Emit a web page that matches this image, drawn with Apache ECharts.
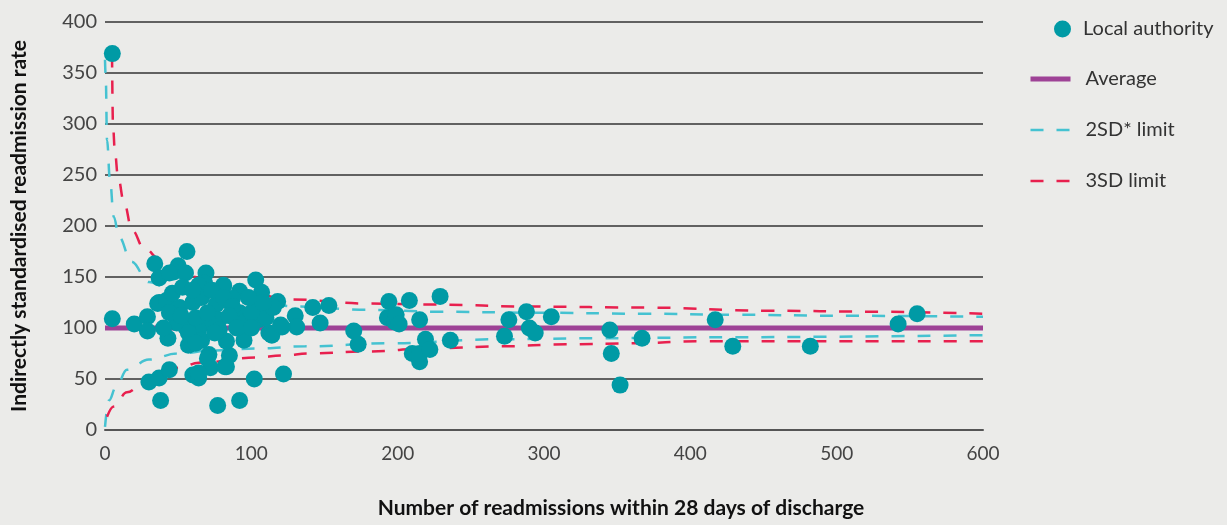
<!DOCTYPE html>
<html>
<head>
<meta charset="utf-8">
<script src="https://cdn.jsdelivr.net/npm/echarts@6/dist/echarts.min.js"></script>
<style>
html,body{margin:0;padding:0;background:#ebebe9;}
#chart{width:1227px;height:525px;}
</style>
</head>
<body>
<div id="chart"></div>
<script>
// ---- Data ----
const xTicks = [0, 100, 200, 300, 400, 500, 600];
const yTicks = [0, 50, 100, 150, 200, 250, 300, 350, 400];

const localAuthority = [
  [5,369],[5,109],[20,104],[29,111],[29,97],[30,47],[34,163],[37,149],[37,51],[38,29],
  [44,59],[37,125],[50,161],[47,155],[56,175],[55,154],[69,154],[68,144],[60,54],[64,51],
  [71,74],[72,61],[70,70],[77,24],[92,29],[85,73],[83,87],[82,62],[95,88],[103,147],
  [102,50],[122,55],[107,135],[92,136],[81,141],[118,126],[112,95],[130,112],[131,101],[142,120],
  [147,105],[153,122],[121,101],[170,97],[173,84],[194,126],[193,110],[198,106],[199,113],[201,104],
  [208,127],[210,75],[215,67],[215,75],[215,108],[219,89],[222,79],[229,131],[236,88],[273,92],
  [276,108],[288,116],[290,100],[294,95],[305,111],[345,98],[346,75],[352,44],[367,90],[417,108],
  [429,82],[482,82],[542,104],[555,114],
  [44,154],[64,142],[81,142],[114,93],[83,62],[64,56],[36,124],[42,127],[51,120],[60,125],
  [66,130],[76,123],[87,129],[92,115],[103,120],[105,108],[96,106],[78,108],[71,105],[64,98],
  [55,101],[49,105],[44,115],[57,95],[66,88],[78,98],[46,134],[53,140],[60,137],[73,137],
  [81,130],[87,121],[43,90],[110,110],[100,115],[115,120],[108,125],[98,130],[62,110],[70,115],
  [85,112],[52,112],[40,100],[75,95],[90,100],[100,100],[120,103],[57,83],[62,85]
];

const averageLine = [[0,100],[600,100]];

const sd2Upper = [[0,363],[0.5,346],[1.4,284],[3.4,245],[6,209],[9.6,189],[18,165],[30,145],[50,134],
  [75,128],[98,125],[133,121],[174,118],[228,116],[292,115],[370,114],[429,113],[502,112],[600,111]];
const sd2Lower = [[0,3],[2.7,29],[7.5,42],[15,59],[30,69],[49,75],[75,78],[103,80],[137,82],[194,85],
  [270,89],[338,90],[429,91],[600,93]];
const sd3Upper = [[4.8,368],[5.5,297],[6.8,272],[8.9,248],[13,223],[18.5,196],[26.7,178],[38,167],
  [53,155],[75,139],[100,133],[128,128],[178,124],[224,123],[292,121],[370,120],[452,117],[525,116],[600,114]];
const sd3Lower = [[1.4,13],[6,23],[15,37],[30,52],[51,61],[64,66],[103,71],[121,73],[140,75],[178,77],
  [224,80],[270,82],[315,84],[360,85],[406,87],[497,87],[600,87]];

const FONT = 'Lato, "Open Sans", sans-serif';
const TEAL = '#009aa5', PURPLE = '#9e4296', CYAN = '#45c2d1', RED = '#e8204e';

const chart = echarts.init(document.getElementById('chart'), null, {renderer: 'canvas'});
function dashStyle(color) {
  return {color: color, width: 2.5, type: [13, 13], dashOffset: 0};
}
const legendText = {fontFamily: FONT, fontSize: 20, color: '#333', padding: [0,0,0,10], lineHeight: 20};
chart.setOption({
  backgroundColor: '#ebebe9',
  animation: false,
  textStyle: {fontFamily: FONT},
  grid: {left: 105, right: 244, top: 22, bottom: 95, containLabel: false, outerBoundsMode: 'none'},
  legend: [
    {
      data: ['Local authority'], orient: 'vertical', left: 1054, top: 19, padding: 0,
      itemWidth: 17, itemHeight: 17,
      textStyle: Object.assign({}, legendText, {padding: [0,0,0,7]})
    },
    {
      data: [
        {name: 'Average', lineStyle: {color: PURPLE, width: 5, type: 'solid'}},
        {name: '2SD* limit', lineStyle: dashStyle(CYAN)},
        {name: '3SD limit', lineStyle: dashStyle(RED)}
      ],
      orient: 'vertical', left: 1028, top: 69, padding: 0,
      itemWidth: 40, itemHeight: 14, itemGap: 31,
      itemStyle: {opacity: 0},
      textStyle: legendText
    }
  ],
  xAxis: {
    type: 'value', min: 0, max: 600, interval: 100,
    name: 'Number of readmissions within 28 days of discharge',
    nameLocation: 'middle', nameGap: 68,
    nameTextStyle: {fontFamily: FONT, fontSize: 21, fontWeight: 'bold', color: '#111', padding: [0,0,0,154]},
    axisLine: {show: true, lineStyle: {color: '#555', width: 2}},
    axisTick: {show: false},
    splitLine: {show: false},
    axisLabel: {fontFamily: FONT, fontSize: 19, color: '#444', margin: 14,
      formatter: v => xTicks.includes(v) ? String(v) : ''}
  },
  yAxis: {
    type: 'value', min: 0, max: 400, interval: 50,
    name: 'Indirectly standardised readmission rate',
    nameLocation: 'middle', nameGap: 75,
    nameTextStyle: {fontFamily: FONT, fontSize: 21, fontWeight: 'bold', color: '#111'},
    axisLine: {show: false},
    axisTick: {show: false},
    splitLine: {show: true, lineStyle: {color: '#333', width: 1.5}},
    axisLabel: {fontFamily: FONT, fontSize: 20, color: '#444', margin: 8,
      formatter: v => yTicks.includes(v) ? String(v) : ''}
  },
  series: [
    {name: 'Average', type: 'line', data: averageLine, symbol: 'none', z: 2,
      lineStyle: {color: PURPLE, width: 5}, itemStyle: {color: PURPLE}},
    {name: '2SD* limit', type: 'line', data: sd2Upper, symbol: 'none', smooth: 0.4, smoothMonotone: 'x', z: 3,
      lineStyle: dashStyle(CYAN), itemStyle: {color: CYAN}},
    {name: '2SD* limit', type: 'line', data: sd2Lower, symbol: 'none', smooth: 0.4, smoothMonotone: 'x', z: 3,
      lineStyle: dashStyle(CYAN), itemStyle: {color: CYAN}},
    {name: '3SD limit', type: 'line', data: sd3Upper, symbol: 'none', smooth: 0.4, smoothMonotone: 'x', z: 3,
      lineStyle: dashStyle(RED), itemStyle: {color: RED}},
    {name: '3SD limit', type: 'line', data: sd3Lower, symbol: 'none', smooth: 0.4, smoothMonotone: 'x', z: 3,
      lineStyle: dashStyle(RED), itemStyle: {color: RED}},
    {name: 'Local authority', type: 'scatter', data: localAuthority, symbol: 'circle', symbolSize: 17, z: 5,
      itemStyle: {color: TEAL, opacity: 1}}
  ]
});
</script>
</body>
</html>
